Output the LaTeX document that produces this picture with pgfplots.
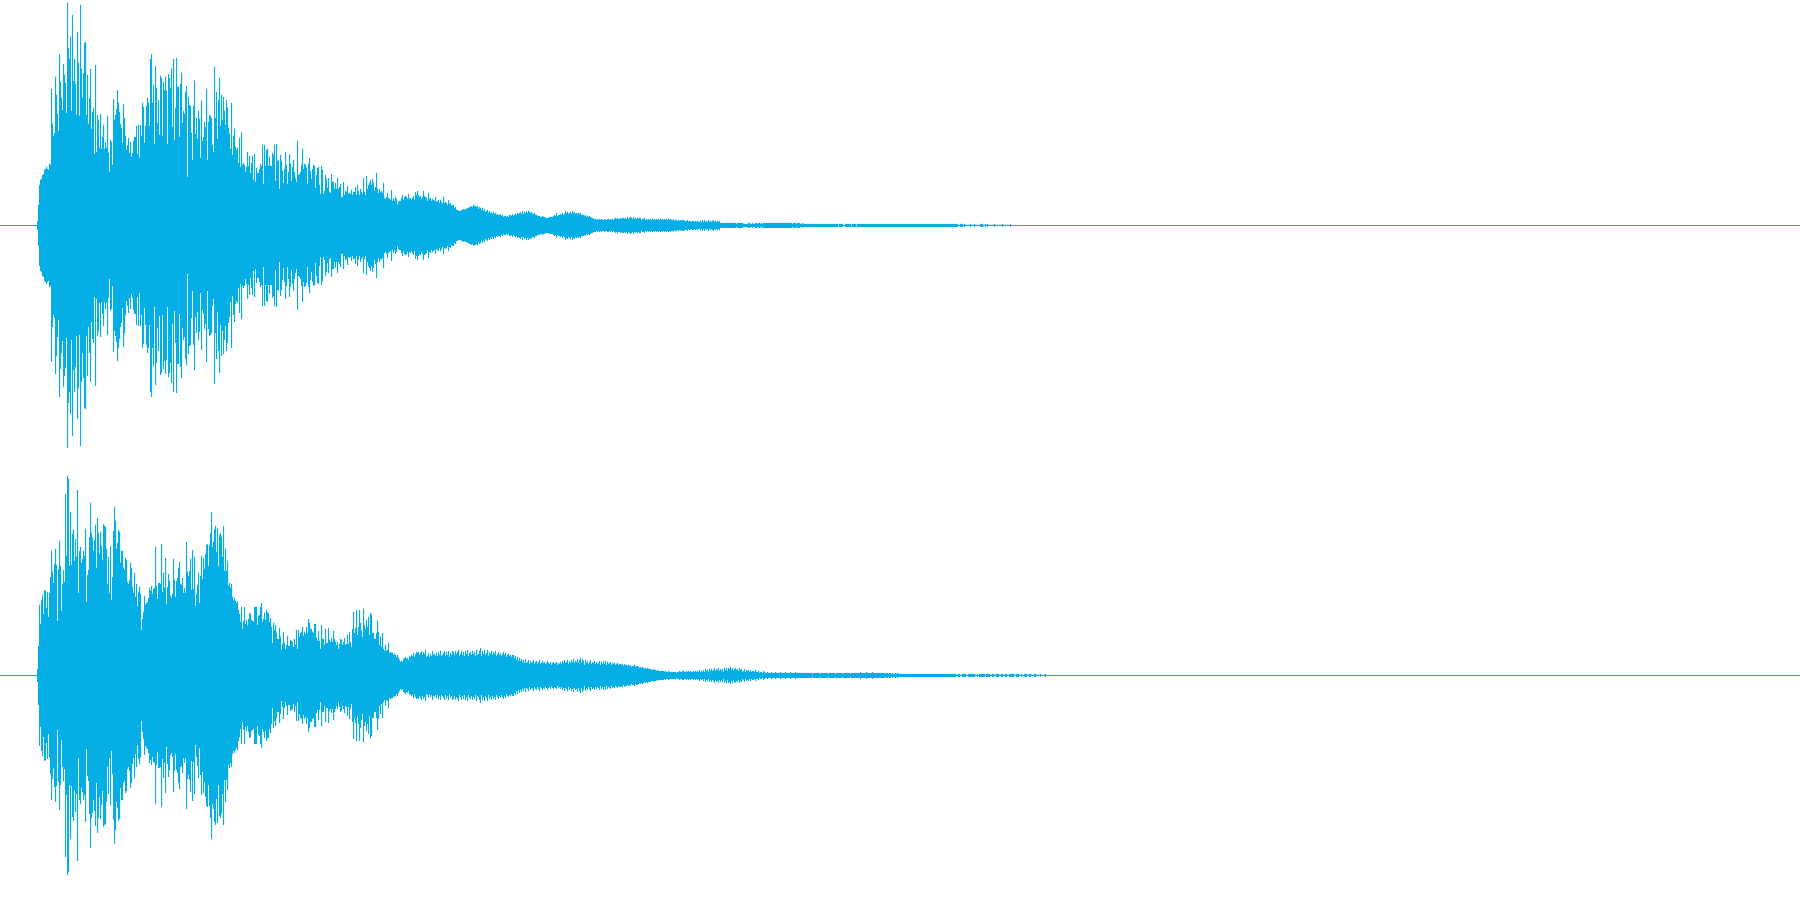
\documentclass[border=0pt]{standalone}
\usepackage{pgfplots}
\usepackage{pgfplotstable}
\pgfplotsset{compat=1.18}
\definecolor{wave}{RGB}{6,174,230}
% x = pixel column, a = channel 1 peak, b = channel 2 peak
\pgfplotstableread[row sep=\\]{
x a b\\
37 4 6\\38 20 29\\39 40 70\\40 45 51\\41 46 75\\42 50 80\\43 51 61\\44 55 85\\45 56 84\\46 58 67\\47 56 83\\48 55 58\\49 61 82\\
50 60 98\\51 136 124\\52 101 103\\53 89 92\\54 92 111\\55 148 126\\56 130 110\\57 111 54\\58 94 106\\59 171 134\\
60 143 109\\61 127 64\\62 115 91\\63 161 105\\64 150 93\\65 142 181\\66 112 119\\67 222 199\\68 177 196\\69 166 109\\
70 188 163\\71 114 110\\72 210 141\\73 144 145\\74 166 114\\75 141 136\\76 110 118\\77 193 185\\78 162 82\\79 109 124\\
80 220 128\\81 156 112\\82 127 116\\83 152 124\\84 182 119\\85 183 146\\86 110 73\\87 150 100\\88 101 105\\89 127 138\\
90 156 172\\91 96 142\\92 113 137\\93 117 124\\94 71 135\\95 160 150\\96 73 107\\97 110 157\\98 105 142\\99 77 121\\
100 111 143\\101 76 129\\102 88 115\\103 100 151\\104 76 149\\105 83 148\\106 77 126\\107 109 91\\108 72 118\\109 53 82\\
110 85 129\\111 83 75\\112 60 98\\113 126 144\\114 105 168\\115 110 154\\116 116 126\\117 135 132\\118 122 145\\119 113 143\\
120 101 112\\121 97 124\\122 82 124\\123 121 107\\124 107 105\\125 89 117\\126 75 115\\127 80 93\\128 87 91\\129 72 95\\
130 83 112\\131 68 107\\132 72 88\\133 84 82\\134 88 102\\135 88 78\\136 99 91\\137 71 69\\138 100 83\\139 67 88\\
140 100 81\\141 89 45\\142 122 56\\143 118 63\\144 82 79\\145 99 70\\146 119 72\\147 127 73\\148 122 77\\149 99 87\\
150 166 84\\151 171 89\\152 122 81\\153 140 86\\154 81 87\\155 159 128\\156 137 89\\157 102 76\\158 125 92\\159 90 92\\
160 149 91\\161 147 131\\162 89 83\\163 143 102\\164 135 87\\165 148 117\\166 134 71\\167 81 88\\168 151 101\\169 147 94\\
170 137 79\\171 157 77\\172 98 81\\173 166 116\\174 85 95\\175 117 78\\176 167 94\\177 138 97\\178 138 107\\179 88 113\\
180 141 91\\181 152 90\\182 102 97\\183 114 82\\184 111 87\\185 133 82\\186 139 133\\187 48 103\\188 128 99\\189 120 104\\
190 119 116\\191 92 85\\192 65 125\\193 119 86\\194 144 118\\195 91 69\\196 107 81\\197 86 90\\198 114 102\\199 106 72\\
200 67 99\\201 124 119\\202 84 96\\203 88 117\\204 103 106\\205 98 121\\206 136 130\\207 65 131\\208 103 109\\209 110 130\\
210 109 142\\211 107 163\\212 80 128\\213 73 133\\214 158 146\\215 107 149\\216 133 123\\217 86 147\\218 125 109\\219 147 140\\
220 99 142\\221 130 138\\222 105 118\\223 128 149\\224 114 104\\225 100 126\\226 125 104\\227 117 114\\228 97 89\\229 91 92\\
230 76 87\\231 122 91\\232 70 78\\233 89 75\\234 96 77\\235 78 74\\236 75 72\\237 77 74\\238 62 65\\239 87 61\\
240 58 53\\241 93 68\\242 60 46\\243 62 54\\244 60 68\\245 53 51\\246 58 55\\247 73 50\\248 59 56\\249 69 62\\
250 52 61\\251 62 55\\252 69 54\\253 45 53\\254 71 68\\255 43 68\\256 57 68\\257 52 50\\258 52 59\\259 56 60\\
260 61 68\\261 59 72\\262 80 53\\263 41 56\\264 80 62\\265 59 55\\266 75 65\\267 76 62\\268 59 62\\269 68 53\\
270 59 57\\271 59 48\\272 72 32\\273 70 52\\274 80 45\\275 44 50\\276 81 42\\277 64 36\\278 65 36\\279 36 47\\
280 70 38\\281 64 25\\282 54 31\\283 42 43\\284 56 32\\285 73 26\\286 60 30\\287 41 39\\288 53 29\\289 71 29\\
290 61 35\\291 44 34\\292 58 33\\293 65 28\\294 53 36\\295 47 30\\296 43 45\\297 84 26\\298 50 45\\299 51 38\\
300 53 42\\301 60 43\\302 76 48\\303 56 39\\304 61 43\\305 60 41\\306 57 48\\307 41 42\\308 61 56\\309 67 52\\
310 54 46\\311 46 46\\312 56 43\\313 60 42\\314 59 51\\315 37 51\\316 50 37\\317 57 34\\318 58 44\\319 40 34\\
320 31 26\\321 59 50\\322 55 36\\323 31 36\\324 34 30\\325 50 46\\326 46 32\\327 37 32\\328 47 47\\329 33 35\\
330 32 33\\331 51 37\\332 43 33\\333 43 44\\334 36 36\\335 42 33\\336 36 30\\337 47 33\\338 36 26\\339 38 31\\
340 41 36\\341 28 35\\342 28 30\\343 43 33\\344 30 37\\345 34 30\\346 33 31\\347 39 40\\348 31 31\\349 32 43\\
350 31 33\\351 35 28\\352 30 46\\353 33 63\\354 33 42\\355 38 47\\356 30 65\\357 40 40\\358 34 48\\359 30 65\\
360 36 52\\361 33 44\\362 31 38\\363 47 66\\364 33 50\\365 30 46\\366 49 55\\367 36 48\\368 40 58\\369 42 40\\
370 45 62\\371 40 60\\372 46 42\\373 42 42\\374 34 36\\375 38 36\\376 52 42\\377 36 54\\378 32 43\\379 36 30\\
380 33 38\\381 34 28\\382 32 42\\383 42 26\\384 27 24\\385 26 30\\386 28 24\\387 32 25\\388 27 32\\389 26 22\\
390 25 23\\391 35 22\\392 24 22\\393 27 20\\394 24 21\\395 28 20\\396 26 18\\397 20 20\\398 23 17\\399 24 15\\
400 24 13\\401 27 14\\402 30 13\\403 25 16\\404 28 17\\405 29 18\\406 28 16\\407 26 17\\408 31 15\\409 26 19\\
410 27 18\\411 25 20\\412 27 19\\413 29 22\\414 25 18\\415 33 21\\416 30 23\\417 34 22\\418 30 23\\419 28 20\\
420 29 22\\421 26 24\\422 28 20\\423 34 23\\424 29 21\\425 28 25\\426 27 18\\427 24 19\\428 32 22\\429 26 18\\
430 27 21\\431 24 19\\432 26 24\\433 25 20\\434 24 21\\435 28 19\\436 23 22\\437 24 19\\438 25 23\\439 22 20\\
440 25 24\\441 23 19\\442 21 20\\443 28 22\\444 22 24\\445 23 19\\446 22 23\\447 20 20\\448 25 24\\449 21 18\\
450 22 22\\451 19 20\\452 20 24\\453 20 23\\454 17 20\\455 18 24\\456 15 21\\457 15 23\\458 14 25\\459 14 19\\
460 14 21\\461 15 24\\462 15 20\\463 16 23\\464 15 19\\465 16 24\\466 16 21\\467 17 25\\468 17 19\\469 18 22\\
470 18 23\\471 19 20\\472 18 24\\473 20 21\\474 19 23\\475 19 19\\476 18 25\\477 19 20\\478 16 21\\479 18 24\\
480 17 27\\481 15 19\\482 17 24\\483 14 21\\484 16 25\\485 13 20\\486 14 22\\487 15 25\\488 12 19\\489 14 23\\
490 12 21\\491 13 24\\492 11 20\\493 13 23\\494 11 21\\495 12 24\\496 10 19\\497 11 21\\498 10 23\\499 10 20\\
500 11 22\\501 9 19\\502 10 21\\503 8 23\\504 9 20\\505 9 22\\506 8 18\\507 9 20\\508 8 21\\509 10 19\\
510 10 20\\511 9 18\\512 11 20\\513 9 20\\514 10 17\\515 11 19\\516 10 15\\517 12 18\\518 11 14\\519 12 17\\
520 13 14\\521 11 16\\522 14 13\\523 11 15\\524 13 12\\525 12 16\\526 14 12\\527 12 13\\528 14 15\\529 13 11\\
530 12 14\\531 13 12\\532 11 13\\533 11 15\\534 12 11\\535 10 13\\536 10 14\\537 9 11\\538 9 13\\539 9 15\\
540 8 11\\541 8 12\\542 9 14\\543 8 12\\544 8 13\\545 7 11\\546 7 12\\547 7 14\\548 7 12\\549 8 11\\
550 8 13\\551 8 10\\552 8 12\\553 9 13\\554 10 11\\555 9 12\\556 12 13\\557 9 10\\558 10 12\\559 10 11\\
560 11 13\\561 10 11\\562 12 14\\563 10 12\\564 11 15\\565 14 12\\566 12 13\\567 13 15\\568 11 11\\569 12 14\\
570 13 12\\571 11 15\\572 14 13\\573 12 16\\574 13 12\\575 11 14\\576 12 13\\577 11 16\\578 12 12\\579 11 15\\
580 12 17\\581 10 12\\582 10 16\\583 10 14\\584 9 10\\585 10 15\\586 8 12\\587 9 14\\588 8 11\\589 9 13\\
590 8 15\\591 7 11\\592 7 13\\593 6 12\\594 6 14\\595 6 11\\596 5 13\\597 6 11\\598 5 12\\599 6 14\\
600 5 10\\601 6 13\\602 5 11\\603 5 14\\604 6 11\\605 5 14\\606 5 10\\607 6 13\\608 6 11\\609 5 12\\
610 6 13\\611 5 10\\612 6 12\\613 5 11\\614 6 12\\615 7 10\\616 6 11\\617 7 12\\618 6 10\\619 6 11\\
620 7 11\\621 6 10\\622 7 11\\623 7 9\\624 6 11\\625 7 10\\626 6 10\\627 8 9\\628 6 10\\629 7 9\\
630 8 10\\631 7 8\\632 6 9\\633 8 9\\634 6 10\\635 7 8\\636 6 9\\637 7 9\\638 6 8\\639 7 7\\
640 7 8\\641 5 7\\642 6 8\\643 6 7\\644 7 6\\645 5 7\\646 6 6\\647 5 7\\648 6 6\\649 5 6\\
650 6 6\\651 5 5\\652 6 5\\653 5 6\\654 6 5\\655 5 5\\656 6 4\\657 5 5\\658 6 4\\659 5 4\\
660 6 4\\661 5 4\\662 6 4\\663 5 4\\664 6 3\\665 5 4\\666 6 3\\667 5 3\\668 6 4\\669 5 3\\
670 6 3\\671 5 3\\672 5 3\\673 6 3\\674 4 3\\675 5 3\\676 5 2\\677 4 3\\678 5 3\\679 4 4\\
680 5 3\\681 4 3\\682 5 4\\683 5 4\\684 4 3\\685 4 3\\686 4 4\\687 5 3\\688 3 4\\689 4 3\\
690 4 4\\691 3 3\\692 4 3\\693 4 4\\694 3 3\\695 4 4\\696 3 3\\697 4 4\\698 3 3\\699 3 5\\
700 4 3\\701 3 4\\702 5 3\\703 3 5\\704 5 3\\705 3 6\\706 4 4\\707 3 5\\708 5 3\\709 3 6\\
710 4 4\\711 3 6\\712 4 4\\713 5 5\\714 3 7\\715 4 4\\716 3 6\\717 4 5\\718 3 7\\719 4 4\\
720 2 6\\
}\main
% run-length tails: x is the left edge of a run
\pgfplotstableread[row sep=\\]{
x h\\
720 2\\736 1\\737 2\\743 1\\748 2\\750 1\\752 2\\753 1\\755 2\\757 1\\758 2\\760 1\\761 2\\762 1\\763 2\\792 1\\793 2\\796 1\\797 2\\800 1\\802 2\\803 1\\838 0\\839 1\\843 0\\845 1\\851 0\\852 1\\856 0\\857 1\\958 0\\960 1\\963 0\\964 1\\965 0\\970 1\\971 0\\974 1\\975 0\\980 1\\983 0\\985 1\\986 0\\987 1\\988 0\\994 1\\995 0\\1002 1\\1003 0\\1010 1\\1011 0\\
}\tailA
\pgfplotstableread[row sep=\\]{
x h\\
720 6\\721 4\\722 6\\723 3\\724 7\\725 5\\726 7\\727 4\\728 7\\729 6\\730 8\\731 5\\732 7\\733 4\\734 6\\735 7\\736 5\\737 6\\738 4\\739 7\\740 5\\741 6\\742 3\\743 4\\744 6\\745 3\\746 5\\747 4\\748 5\\749 3\\750 5\\751 3\\752 4\\754 3\\755 5\\756 3\\758 4\\759 2\\760 3\\762 2\\763 4\\764 3\\765 2\\767 3\\768 2\\771 3\\772 2\\775 3\\776 2\\780 3\\781 2\\785 3\\786 2\\790 3\\791 2\\795 3\\796 2\\805 2\\812 1\\813 2\\820 1\\821 2\\828 1\\829 2\\835 1\\836 2\\842 1\\843 2\\850 1\\851 2\\860 3\\861 2\\866 3\\867 2\\872 3\\873 2\\885 1\\886 2\\888 1\\889 2\\891 1\\892 2\\893 1\\895 2\\896 1\\897 2\\898 1\\956 0\\958 1\\960 0\\962 1\\966 0\\968 1\\975 0\\977 1\\978 0\\979 1\\985 0\\986 1\\990 0\\992 1\\994 0\\996 1\\999 0\\1001 1\\1003 0\\1005 1\\1007 0\\1009 1\\1014 0\\1016 1\\1019 0\\1021 1\\1022 0\\1024 1\\1027 0\\1029 1\\1031 0\\1034 1\\1036 0\\1040 1\\1041 0\\1045 1\\1046 0\\1047 0\\
}\tailB
\pgfplotsset{wavestyle/.style={
  scale only axis, width=900pt, height=225pt, hide axis,
  xmin=0, xmax=1800, ymin=-225, ymax=225, anchor=south west},
  wv/.style={const plot mark left, draw=none, fill=wave, no markers, forget plot},
  cl/.style={draw=wave, line width=0.5pt, no markers, sharp plot, forget plot}}
\begin{document}
\begin{tikzpicture}
\path[use as bounding box] (0pt,0pt) rectangle (900pt,450pt);
\begin{axis}[wavestyle, at={(0pt,225pt)}]
\addplot[wv] table[x=x,y=a] {\main} \closedcycle;
\addplot[wv] table[x=x,y expr=-\thisrow{a}-1] {\main} \closedcycle;
\addplot[wv] table[x=x,y=h] {\tailA} \closedcycle;
\addplot[wv] table[x=x,y expr=-\thisrow{h}-1] {\tailA} \closedcycle;
\addplot[cl] coordinates {(0,-0.5)(1800,-0.5)};
\end{axis}
\begin{axis}[wavestyle, at={(0pt,0pt)}]
\addplot[wv] table[x=x,y=b] {\main} \closedcycle;
\addplot[wv] table[x=x,y expr=-\thisrow{b}-1] {\main} \closedcycle;
\addplot[wv] table[x=x,y=h] {\tailB} \closedcycle;
\addplot[wv] table[x=x,y expr=-\thisrow{h}-1] {\tailB} \closedcycle;
\addplot[cl] coordinates {(0,-0.5)(1800,-0.5)};
\end{axis}
\end{tikzpicture}
\end{document}
